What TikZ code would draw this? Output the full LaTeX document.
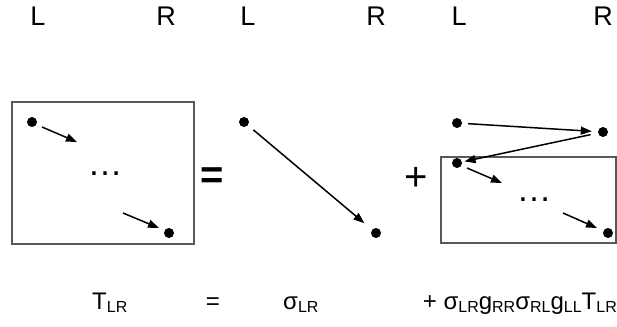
\documentclass[tikz,border=0pt]{standalone}
\usepackage{fontspec}
\setmainfont{Liberation Sans}
\usetikzlibrary{arrows.meta}
\newcommand\sbx[1]{\raisebox{-3.5pt}{\fontsize{16}{16}\selectfont #1}}
\begin{document}
\begin{tikzpicture}[x=1pt,y=-1pt,
  dotnode/.style={circle,fill=black,inner sep=0pt,minimum size=10pt},
  conn/.style={line width=1.5pt,-{Triangle[length=11pt,width=8pt]}},
  frame/.style={draw=black!65,line width=1.3pt},
  lbl/.style={font=\fontsize{27}{27}\selectfont,inner sep=0pt},
  eqtxt/.style={font=\fontsize{24}{24}\selectfont,inner sep=0pt},
  bigsym/.style={font=\fontsize{40}{40}\selectfont,inner sep=0pt},
  ell/.style={font=\fontsize{35}{35}\selectfont,inner sep=0pt}]
\useasboundingbox (0,0) rectangle (617,326);
% top labels
\node[lbl] (L1) at (38,16) {L};
\node[lbl] (R1) at (166,16) {R};
\node[lbl] (L2) at (248,16) {L};
\node[lbl] (R2) at (376,16) {R};
\node[lbl] (L3) at (459,16) {L};
\node[lbl] (R3) at (603,16) {R};
% diagram 1
\draw[frame] (12,102) rectangle (194,244);
\node[dotnode] (a1) at (32,122) {};
\node[dotnode] (a2) at (169,233) {};
\coordinate (p1s) at (42,127); \coordinate (p1e) at (77,142);
\coordinate (p2s) at (123,213); \coordinate (p2e) at (159,228);
\draw[conn] (p1s) -- (p1e);
\draw[conn] (p2s) -- (p2e);
\node[ell] (e1) at (105,174) {…};
% equals
\node[bigsym,font=\fontsize{40}{40}\selectfont\bfseries] (eq) at (212,178) {=};
% diagram 2
\node[dotnode] (b1) at (244,122) {};
\node[dotnode] (b2) at (376,233) {};
\draw[conn,shorten <=7pt,shorten >=10pt] (b1) -- (b2);
% plus
\node[bigsym] (pl) at (416,179) {+};
% diagram 3
\draw[frame] (441,157) rectangle (616,243);
\node[dotnode] (c1) at (457,123) {};
\node[dotnode] (c2) at (603,132) {};
\node[dotnode] (c3) at (457,163) {};
\node[dotnode] (c4) at (608,233) {};
\draw[conn,shorten <=6pt,shorten >=6pt] (c1) -- (c2);
\draw[conn,shorten <=7.5pt,shorten >=2.5pt] (c2) -- (c3);
\coordinate (q1s) at (467,168); \coordinate (q1e) at (502,183);
\coordinate (q2s) at (563,213); \coordinate (q2e) at (597,228);
\draw[conn] (q1s) -- (q1e);
\draw[conn] (q2s) -- (q2e);
\node[ell] (e2) at (534,200) {…};
% equation
\node[eqtxt,anchor=base west] (t1) at (92,309) {T\sbx{LR}};
\node[eqtxt,anchor=base] (t2) at (213,309) {=};
\node[eqtxt,anchor=base west] (t3) at (283,309) {σ\sbx{LR}};
\node[eqtxt,anchor=base east] (t4) at (617,309) {+ σ\sbx{LR}g\sbx{RR}σ\sbx{RL}g\sbx{LL}T\sbx{LR}};
\end{tikzpicture}
\end{document}
